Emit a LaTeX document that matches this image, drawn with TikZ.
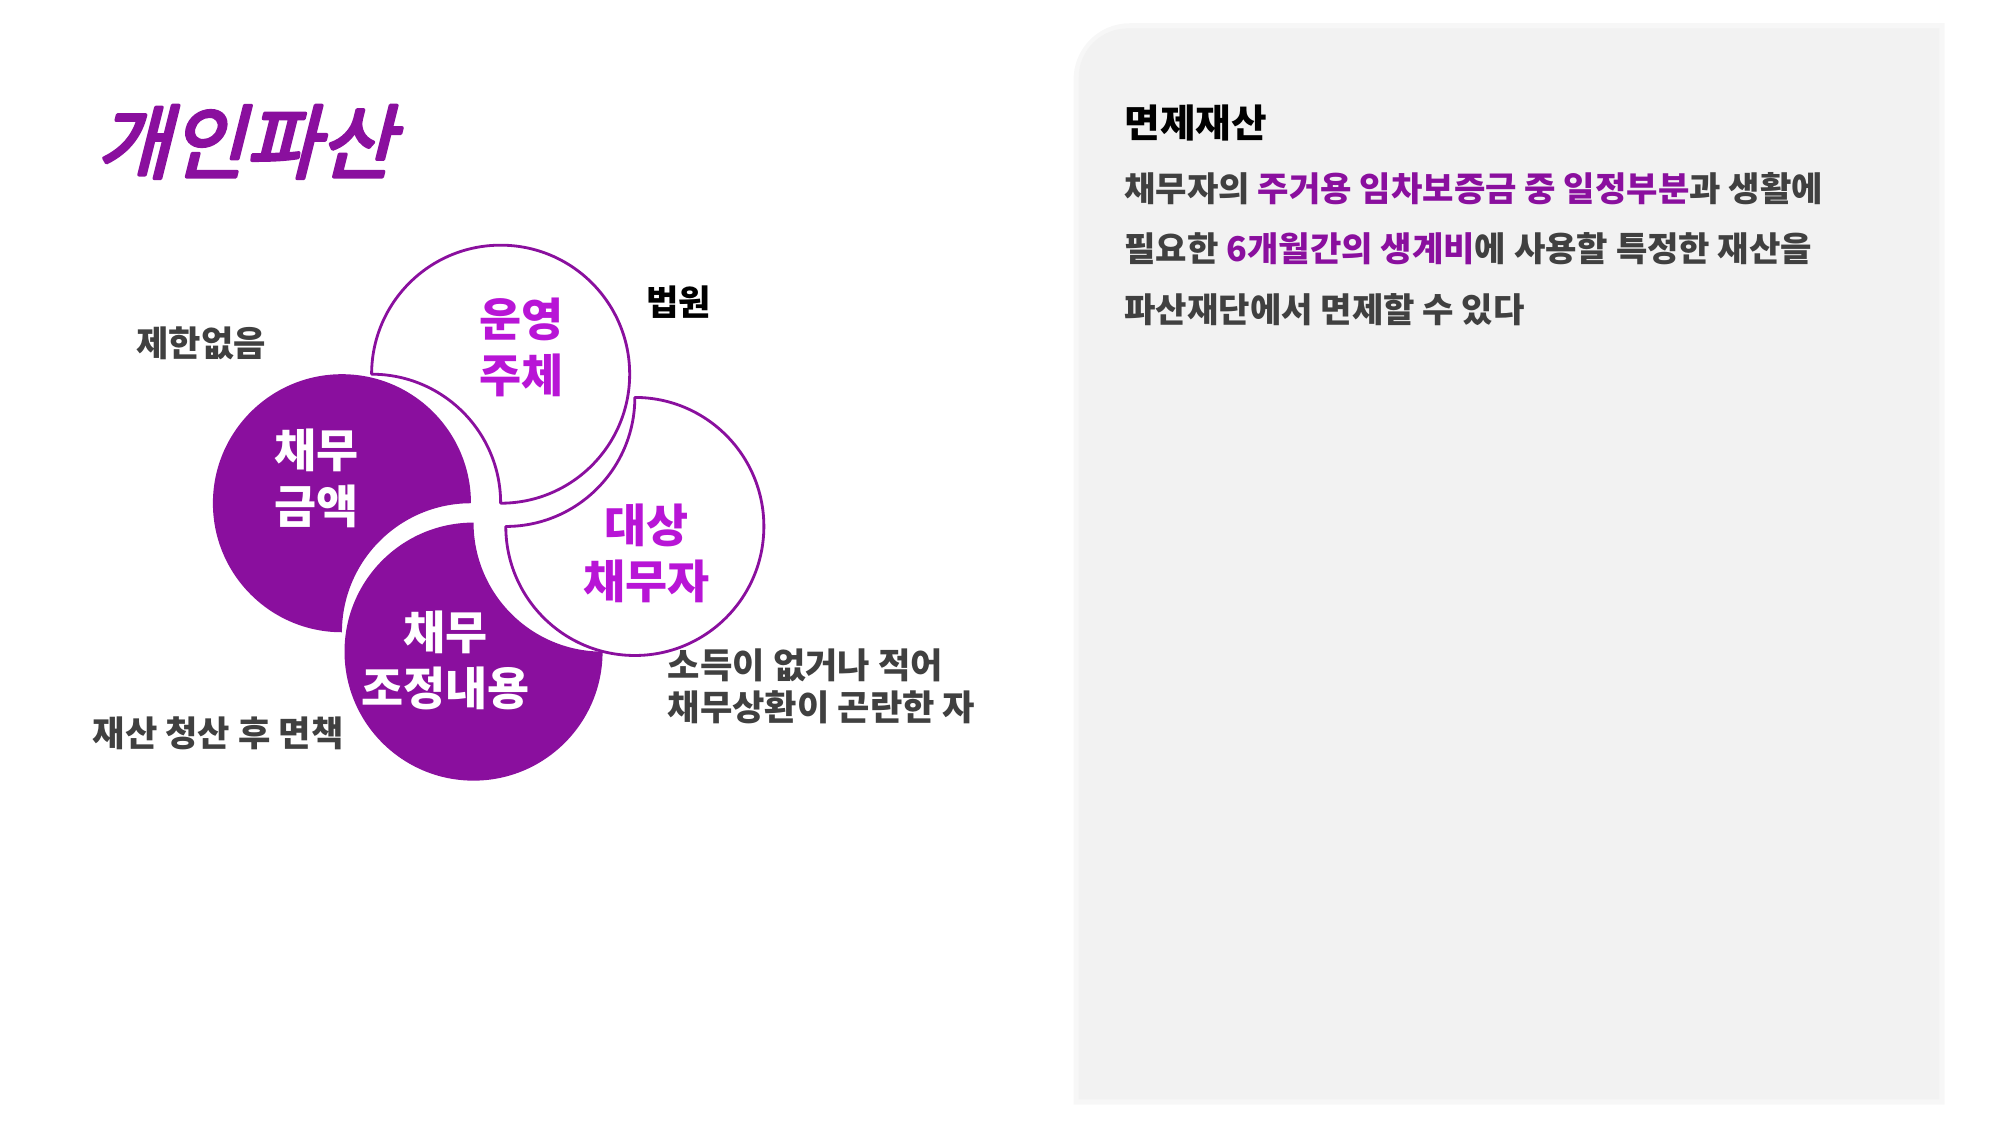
\documentclass[tikz,border=0pt]{standalone}
\usepackage{fontspec}
\setmainfont{Noto Sans CJK KR}
\newfontfamily\krtitle{Noto Sans CJK KR}[FakeSlant=0.25,FakeBold=4]
\usetikzlibrary{positioning,calc}
\definecolor{violet}{HTML}{8A0F9E}
\definecolor{lightviolet}{HTML}{B815D6}
\definecolor{darktext}{HTML}{404040}
\definecolor{panel}{HTML}{F2F2F2}
\newcommand{\leaf}[3]{% center, rotation, style
  \path[#3,rotate around={#2:#1}] ($#1+(180:100)$) arc[start angle=180,end angle=450,radius=100]
    arc[start angle=0,end angle=-90,radius=100] -- cycle;}
\begin{document}
\begin{tikzpicture}[x=0.0129cm,y=-0.0129cm,line join=round,
  outleaf/.style={draw=violet,fill=white,line width=0.8pt},
  fullleaf/.style={fill=violet},
  lbl/.style={font=\bfseries\fontsize{10}{12}\selectfont,text=darktext,align=left},
  body/.style={anchor=west,font=\bfseries\fontsize{9.7}{11}\selectfont,text=darktext,inner sep=0pt}]
\useasboundingbox (0,0) rectangle (1550,872);
% right panel
\fill[black!3] (832,856) [rounded corners=16pt]-- (832,18) [sharp corners]-- (1507,18) -- (1507,856) -- cycle;
\fill[panel] (836,852) [rounded corners=14pt]-- (836,22) [sharp corners]-- (1503,22) -- (1503,852) -- cycle;
\node[anchor=west,inner sep=0pt,font=\bfseries\fontsize{11}{13}\selectfont] (head) at (871,95) {면제재산};
\node[body] (line1) at (871,146) {채무자의 \textcolor{violet}{주거용 임차보증금 중 일정부분}과 생활에};
\node[body] (line2) at (871,193) {필요한 \textcolor{violet}{6개월간의 생계비}에 사용할 특정한 재산을};
\node[body] (line3) at (871,240) {파산재단에서 면제할 수 있다};
% title
\node[anchor=west,inner sep=0pt,text=violet,font=\krtitle\fontsize{23}{26}\selectfont] (title) at (74,110) {개인파산};
% leaves
\leaf{(265,390)}{90}{fullleaf}
\leaf{(367,505)}{180}{fullleaf}
\leaf{(388,290)}{0}{outleaf}
\leaf{(492,408)}{-90}{outleaf}
\node[align=center,text=lightviolet,font=\bfseries\fontsize{13}{16}\selectfont] (op) at (404,269) {운영\\주체};
\node[align=center,text=lightviolet,font=\bfseries\fontsize{13}{16}\selectfont] (target) at (501,429) {대상\\채무자};
\node[align=center,text=white,font=\bfseries\fontsize{13}{16}\selectfont] (amount) at (245,371) {채무\\금액};
\node[align=center,text=white,font=\bfseries\fontsize{13}{16}\selectfont] (adjust) at (345,512) {채무\\조정내용};
% labels
\node[lbl,text=black] (court) at (526,234) {법원};
\node[lbl] (nolimit) at (156,266) {제한없음};
\node[lbl,anchor=west] (income) at (508,532) {소득이 없거나 적어\\채무상환이 곤란한 자};
\node[lbl] (discharge) at (169,568) {재산 청산 후 면책};
\end{tikzpicture}
\end{document}
